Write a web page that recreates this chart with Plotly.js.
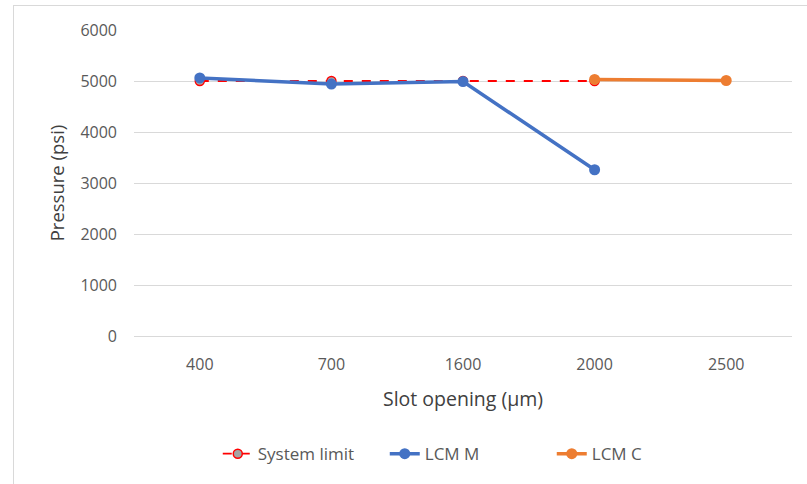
<!DOCTYPE html>
<html>
<head>
<meta charset="utf-8">
<script src="https://cdn.plot.ly/plotly-3.0.1.min.js"></script>
<style>
  html, body { margin: 0; padding: 0; background: #fff; }
  #wrap { position: relative; width: 807px; height: 484px; overflow: hidden; }
  #frame { position: absolute; left: 13px; top: 5px; width: 820px; height: 520px; border: 1px solid #d9d9d9; box-sizing: border-box; pointer-events: none; }
  #chart { position: absolute; left: 0; top: 0; width: 807px; height: 484px; }
</style>
</head>
<body>
<div id="wrap">
  <div id="chart"></div>
  <div id="frame"></div>
</div>
<script>
const categories = ["400", "700", "1600", "2000", "2500"];
const systemLimit = [5000, 5000, 5000, 5000, null];
const lcmM = [5060, 4940, 4990, 3260, null];
const lcmC = [null, null, null, 5030, 5010];
const yTicks = [0, 1000, 2000, 3000, 4000, 5000, 6000];

const font = "Open Sans, Noto Sans, sans-serif";

const traces = [
  {
    x: categories, y: systemLimit, name: "System limit", type: "scatter", mode: "lines+markers",
    line: { color: "#FF0000", width: 1.8, dash: "dash" },
    marker: { color: "#A5A5A5", size: 9, line: { color: "#FF0000", width: 1.5 } },
    connectgaps: false
  },
  {
    x: categories, y: lcmM, name: "LCM M", type: "scatter", mode: "lines+markers",
    line: { color: "#4472C4", width: 3.5 },
    marker: { color: "#4472C4", size: 11 },
    connectgaps: false
  },
  {
    x: categories, y: lcmC, name: "LCM C", type: "scatter", mode: "lines+markers",
    line: { color: "#ED7D31", width: 3.5 },
    marker: { color: "#ED7D31", size: 11 },
    connectgaps: false
  }
];

const layout = {
  width: 807, height: 484,
  margin: { l: 134, r: 15, t: 30, b: 146 },
  paper_bgcolor: "#ffffff", plot_bgcolor: "#ffffff",
  showlegend: true,
  font: { family: font, color: "#595959", size: 16 },
  xaxis: {
    type: "category", range: [-0.5, 4.5],
    showgrid: false, showline: false, zeroline: false, ticks: "",
    ticklabelstandoff: 17,
    tickfont: { family: font, size: 16, color: "#595959" },
    title: { text: "Slot opening (μm)", font: { family: font, size: 19.5, color: "#404040" }, standoff: 18 }
  },
  yaxis: {
    range: [0, 6000], tickvals: yTicks, ticktext: yTicks.map(String),
    showgrid: true, gridcolor: "#d9d9d9", gridwidth: 1,
    zeroline: true, zerolinecolor: "#d9d9d9", zerolinewidth: 1,
    showline: false, ticks: "", ticklen: 0,
    ticklabelstandoff: 16,
    tickfont: { family: font, size: 16, color: "#595959" },
    title: { text: "Pressure (psi)", font: { family: font, size: 18.5, color: "#404040" }, standoff: 10 }
  },
  legend: {
    orientation: "h", x: 0.508, xanchor: "center", y: -0.386, yanchor: "middle",
    font: { family: font, size: 17, color: "#595959" },
    bgcolor: "rgba(0,0,0,0)", entrywidth: 122, entrywidthmode: "pixels"
  }
};

Plotly.newPlot("chart", traces, layout, { displayModeBar: false, staticPlot: true });
</script>
</body>
</html>
